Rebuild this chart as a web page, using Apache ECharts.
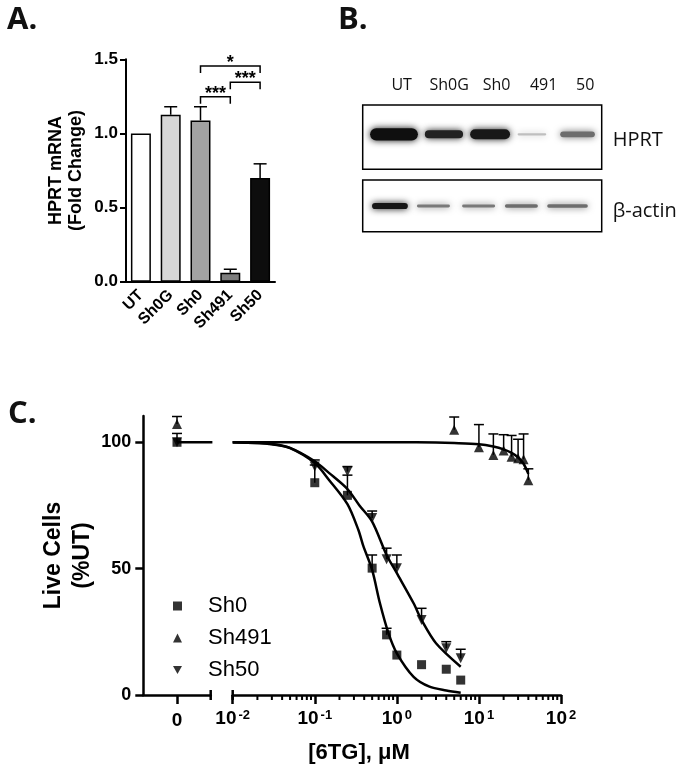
<!DOCTYPE html>
<html>
<head>
<meta charset="utf-8">
<script src="https://cdn.jsdelivr.net/npm/echarts@6/dist/echarts.min.js"></script>
<style>
  html, body { margin: 0; padding: 0; background: #fff; }
  #fig { width: 685px; height: 768px; }
</style>
</head>
<body>
<div id="fig"></div>
<script>
// ---- panel A: HPRT mRNA ----
var mrnaGroups = ['UT', 'Sh0G', 'Sh0', 'Sh491', 'Sh50'];
var mrnaFold = [1.0, 1.126, 1.088, 0.061, 0.70];
var mrnaSem = [0, 0.054, 0.092, 0.023, 0.095];
var mrnaColors = ['#ffffff', '#d6d6d6', '#a3a3a3', '#7d7d7d', '#0d0d0d'];
var sigFrom = [2, 3, 2];
var sigTo = [4, 4, 3];
var sigLevel = [1.455, 1.345, 1.248];
var sigText = ['*', '***', '***'];

// ---- panel B: western blot ----
var laneNames = ['UT', 'Sh0G', 'Sh0', '491', '50'];
var laneLabelPos = [1.63, 3.62, 5.6, 7.57, 9.31];
var hprtPos = [1.31, 3.40, 5.33, 7.08, 8.99];
var hprtWidth = [2.0, 1.6, 1.67, 1.2, 1.45];
var hprtThick = [0.19, 0.125, 0.155, 0.035, 0.09];
var hprtDensity = [1.0, 0.92, 0.96, 0.25, 0.6];
var actinPos = [1.14, 2.96, 4.85, 6.64, 8.57];
var actinWidth = [1.5, 1.38, 1.38, 1.38, 1.7];
var actinThick = [0.12, 0.055, 0.055, 0.065, 0.065];
var actinDensity = [0.97, 0.55, 0.55, 0.6, 0.6];

// ---- panel C: 6TG dose response ----
var sh0Conc = [0.1, 0.25, 0.5, 0.75, 1, 2, 4, 6];
var sh0Live = [84, 79, 50.2, 23.8, 15.8, 12, 10.2, 5.9];
var sh0ErrTop = [91, 87, 55.4, 26.4, 15.8, 12, 10.2, 5.9];
var sh491Conc = [5, 10, 15, 20, 25, 30, 35, 40];
var sh491Live = [105, 98, 95, 96.7, 94.3, 93.7, 93.3, 85];
var sh491ErrTop = [110, 107, 103.3, 103, 102.7, 101.2, 103.3, 89.5];
var sh50Conc = [0.1, 0.25, 0.5, 0.75, 1, 2, 4, 6];
var sh50Live = [90.4, 88.4, 70, 53.7, 50.2, 29.7, 18.5, 14.5];
var sh50ErrTop = [93, 90.4, 72.8, 58.1, 55.4, 34.3, 21.1, 18.1];
// untreated (0 uM) points: [value, error top]
var sh0Zero = [100, 103.5];
var sh491Zero = [107.2, 110.2];
var sh50Zero = [100, 100];
// fitted curves
var sh0FitX = [0.01, 0.02, 0.03, 0.05, 0.1, 0.15, 0.25, 0.34, 0.39, 0.5, 0.62, 0.79, 1, 1.6, 2.5, 4, 6];
var sh0FitY = [100, 99.7, 99.2, 97.7, 91.8, 85, 75.5, 65.3, 59, 49.5, 36.5, 24.5, 16.5, 7.2, 3.3, 1.8, 0.9];
var sh50FitX = [0.01, 0.02, 0.03, 0.05, 0.1, 0.15, 0.25, 0.35, 0.5, 0.75, 1, 1.6, 2, 3, 6];
var sh50FitY = [100, 99.7, 99.3, 97.8, 92.5, 87.8, 81.5, 75, 68.6, 55.4, 48.2, 36.3, 29.7, 20.5, 11.2];
var sh491FitX = [0.01, 1, 3, 5, 10, 15, 20, 25, 30, 35, 40];
var sh491FitY = [100, 100, 99.9, 99.7, 99.2, 98.3, 97.2, 95.8, 94, 91.5, 87.5];
var zeroFitX = [0, 1.05];
var zeroFitY = [100, 100];
var logMinorTicks = [0.02, 0.03, 0.04, 0.05, 0.06, 0.07, 0.08, 0.09,
                     0.2, 0.3, 0.4, 0.5, 0.6, 0.7, 0.8, 0.9,
                     2, 3, 4, 5, 6, 7, 8, 9,
                     20, 30, 40, 50, 60, 70, 80, 90];

var arial = "'Liberation Sans', Arial, sans-serif";
var calibri = "'Open Sans', 'Noto Sans', sans-serif";

function zip(xs, ys) {
    return xs.map(function (x, i) { return [x, ys[i]]; });
}
function zip3(xs, ys, zs) {
    return xs.map(function (x, i) { return [x, ys[i], zs[i]]; });
}

// error bar: one sided, upwards, with a cap
function errItem(capW) {
    return function (params, api) {
        var base = api.coord([api.value(0), api.value(1)]);
        var top = api.coord([api.value(0), api.value(2)]);
        if (api.value(2) <= api.value(1)) return null;
        var st = { stroke: '#000', lineWidth: 1.5 };
        return {
            type: 'group',
            children: [
                { type: 'line', shape: { x1: base[0], y1: base[1], x2: top[0], y2: top[1] }, style: st },
                { type: 'line', shape: { x1: top[0] - capW, y1: top[1], x2: top[0] + capW, y2: top[1] }, style: st }
            ]
        };
    };
}

function bandItem(params, api) {
    var c = api.coord([api.value(0), api.value(1)]);
    var s = api.size([api.value(2), api.value(3)]);
    var g = Math.round(235 * (1 - api.value(4)) + 15);
    var col = 'rgb(' + g + ',' + g + ',' + g + ')';
    return {
        type: 'rect',
        shape: { x: c[0] - s[0] / 2, y: c[1] - s[1] / 2, width: s[0], height: s[1], r: s[1] / 2 },
        style: { fill: col, shadowBlur: 7, shadowColor: col }
    };
}

var chartDom = document.getElementById('fig');
var myChart = echarts.init(chartDom, null, { renderer: 'canvas' });
var option;

var bandsHprt = hprtPos.map(function (x, i) { return [x, 0.544, hprtWidth[i], hprtThick[i], hprtDensity[i]]; });
var bandsActin = actinPos.map(function (x, i) { return [x, 0.497, actinWidth[i], actinThick[i], actinDensity[i]]; });

var downTri = 'path://M0,0L10,0L5,9Z';

option = {
    animation: false,
    backgroundColor: '#fff',
    title: [
        { text: 'A.', left: 2, top: 0, textStyle: { fontFamily: calibri, fontWeight: 'bold', fontSize: 31, color: '#111' } },
        { text: 'B.', left: 333, top: 0, textStyle: { fontFamily: calibri, fontWeight: 'bold', fontSize: 31, color: '#111' } },
        { text: 'C.', left: 3, top: 394, textStyle: { fontFamily: calibri, fontWeight: 'bold', fontSize: 31, color: '#111' } },
        { text: '[6TG], \u03bcM', left: 354, top: 737, textAlign: 'center',
          textStyle: { fontFamily: arial, fontWeight: 'bold', fontSize: 22, color: '#000' } }
    ],
    legend: {
        data: [
            { name: 'Sh0', icon: 'rect' },
            { name: 'Sh491', icon: 'triangle' },
            { name: 'Sh50', icon: downTri }
        ],
        orient: 'vertical',
        left: 168,
        top: 590,
        itemWidth: 9,
        itemHeight: 9,
        itemGap: 10,
        selectedMode: false,
        textStyle: { fontFamily: arial, fontSize: 22, color: '#000', lineHeight: 22, padding: [0, 0, 0, 21] }
    },
    grid: [
        { left: 126, top: 59.3, width: 149, height: 222.4 },
        { left: 362.7, top: 105, width: 239, height: 64.3, show: true, borderColor: '#000', borderWidth: 1.5 },
        { left: 362.7, top: 180, width: 239, height: 51.7, show: true, borderColor: '#000', borderWidth: 1.5 },
        { left: 143.3, top: 416, width: 67.4, height: 279 },
        { left: 232.7, top: 416, width: 328.3, height: 279 }
    ],
    xAxis: [
        {
            gridIndex: 0, type: 'category', data: mrnaGroups,
            axisLine: { onZero: false, lineStyle: { color: '#000', width: 2 } },
            axisTick: { alignWithLabel: true, length: 6, lineStyle: { width: 2, color: '#000' } },
            axisLabel: { interval: 0, hideOverlap: false, rotate: 45, margin: 11, fontFamily: arial, fontWeight: 'bold', fontSize: 16, color: '#000' }
        },
        {
            gridIndex: 1, type: 'value', min: 0, max: 10, position: 'top',
            axisLine: { show: false }, axisTick: { show: false }, splitLine: { show: false },
            axisLabel: {
                customValues: laneLabelPos, margin: 12,
                fontFamily: calibri, fontSize: 16, color: '#111',
                formatter: function (v) { return laneNames[laneLabelPos.indexOf(v)] || ''; }
            }
        },
        { gridIndex: 2, type: 'value', min: 0, max: 10, show: false, splitLine: { show: false } },
        {
            gridIndex: 3, type: 'value', min: -1, max: 1,
            axisLine: { onZero: false, lineStyle: { color: '#000', width: 2.5 } },
            axisTick: { customValues: [0], length: 9, lineStyle: { width: 2.5, color: '#000' } },
            splitLine: { show: false },
            axisLabel: { customValues: [0], margin: 16, fontFamily: arial, fontWeight: 'bold', fontSize: 19, color: '#000' }
        },
        {
            gridIndex: 4, type: 'log', logBase: 10, min: 0.01, max: 100, splitNumber: 4,
            axisLine: { onZero: false, lineStyle: { color: '#000', width: 2.5 } },
            axisTick: { length: 9, lineStyle: { width: 2.5, color: '#000' } },
            splitLine: { show: false },
            axisLabel: {
                margin: 14, color: '#000',
                formatter: function (v) {
                    var e = Math.round(Math.log(v) / Math.LN10);
                    return '{b|10}{s|' + e + '}';
                },
                rich: {
                    b: { fontFamily: arial, fontWeight: 'bold', fontSize: 19, color: '#000' },
                    s: { fontFamily: arial, fontWeight: 'bold', fontSize: 13, color: '#000', verticalAlign: 'top', padding: [0, 0, 0, 2] }
                }
            }
        }
    ],
    yAxis: [
        {
            gridIndex: 0, type: 'value', min: 0, max: 1.5, interval: 0.5,
            name: 'HPRT mRNA\n(Fold Change)', nameLocation: 'middle', nameGap: 40,
            nameTextStyle: { fontFamily: arial, fontWeight: 'bold', fontSize: 18, lineHeight: 20, color: '#000' },
            axisLine: { show: true, onZero: false, lineStyle: { color: '#000', width: 2 } },
            axisTick: { show: true, length: 6, lineStyle: { width: 2, color: '#000' } },
            splitLine: { show: false },
            axisLabel: {
                margin: 8, fontFamily: arial, fontWeight: 'bold', fontSize: 17, color: '#000',
                formatter: function (v) { return v.toFixed(1); }
            }
        },
        {
            gridIndex: 1, type: 'value', min: 0, max: 1, position: 'right',
            axisLine: { show: false }, axisTick: { show: false }, splitLine: { show: false },
            axisLabel: {
                customValues: [0.456], margin: 11, fontFamily: calibri, fontSize: 20, color: '#111',
                formatter: function () { return 'HPRT'; }
            }
        },
        {
            gridIndex: 2, type: 'value', min: 0, max: 1, position: 'right',
            axisLine: { show: false }, axisTick: { show: false }, splitLine: { show: false },
            axisLabel: {
                customValues: [0.39], margin: 11, fontFamily: calibri, fontSize: 20, color: '#111',
                formatter: function () { return '\u03b2-actin'; }
            }
        },
        {
            gridIndex: 3, type: 'value', min: 0, max: 110.4,
            name: 'Live Cells\n(%UT)', nameLocation: 'middle', nameGap: 43,
            nameTextStyle: { fontFamily: arial, fontWeight: 'bold', fontSize: 23, lineHeight: 29, color: '#000' },
            axisLine: { show: true, onZero: false, lineStyle: { color: '#000', width: 2.5 } },
            axisTick: { show: true, customValues: [0, 50, 100], length: 8, lineStyle: { width: 2.5, color: '#000' } },
            splitLine: { show: false },
            axisLabel: { customValues: [0, 50, 100], margin: 12, fontFamily: arial, fontWeight: 'bold', fontSize: 18, color: '#000' }
        },
        { gridIndex: 4, type: 'value', min: 0, max: 110.4, show: false, splitLine: { show: false } }
    ],
    series: [
        // panel A
        {
            name: 'mRNA', type: 'bar', xAxisIndex: 0, yAxisIndex: 0, barWidth: '67%',
            data: mrnaFold.map(function (v, i) {
                return { value: v, itemStyle: { color: mrnaColors[i], borderColor: '#000', borderWidth: 1.5 } };
            })
        },
        {
            name: 'mRNA err', type: 'custom', xAxisIndex: 0, yAxisIndex: 0, z: 3,
            renderItem: errItem(6.5),
            data: mrnaFold.map(function (v, i) { return [i, v, v + mrnaSem[i]]; })
        },
        {
            name: 'sig', type: 'custom', xAxisIndex: 0, yAxisIndex: 0, clip: false,
            renderItem: function (params, api) {
                var a = api.coord([api.value(0), api.value(2)]);
                var b = api.coord([api.value(1), api.value(2)]);
                return {
                    type: 'group',
                    children: [
                        { type: 'polyline', shape: { points: [[a[0], a[1] + 7], a, b, [b[0], b[1] + 7]] },
                          style: { stroke: '#000', lineWidth: 1.5, fill: null } },
                        { type: 'text', x: (a[0] + b[0]) / 2, y: a[1] + 6,
                          style: { text: sigText[params.dataIndex], align: 'center', verticalAlign: 'bottom',
                                   font: 'bold 18px ' + arial, fill: '#000' } }
                    ]
                };
            },
            data: sigFrom.map(function (f, i) { return [f, sigTo[i], sigLevel[i]]; })
        },
        // panel B
        { name: 'HPRT bands', type: 'custom', xAxisIndex: 1, yAxisIndex: 1, renderItem: bandItem, data: bandsHprt },
        { name: 'actin bands', type: 'custom', xAxisIndex: 2, yAxisIndex: 2, renderItem: bandItem, data: bandsActin },
        // panel C, log part
        {
            name: 'Sh0 fit', type: 'line', xAxisIndex: 4, yAxisIndex: 4, data: zip(sh0FitX, sh0FitY),
            showSymbol: false, smooth: 0.3, lineStyle: { color: '#000', width: 2.5 }, z: 2
        },
        {
            name: 'Sh50 fit', type: 'line', xAxisIndex: 4, yAxisIndex: 4, data: zip(sh50FitX, sh50FitY),
            showSymbol: false, smooth: 0.3, lineStyle: { color: '#000', width: 2.5 }, z: 2
        },
        {
            name: 'Sh491 fit', type: 'line', xAxisIndex: 4, yAxisIndex: 4, data: zip(sh491FitX, sh491FitY),
            showSymbol: false, smooth: 0.3, lineStyle: { color: '#000', width: 2.5 }, z: 2
        },
        { name: 'Sh0 err', type: 'custom', xAxisIndex: 4, yAxisIndex: 4, clip: false, renderItem: errItem(5), data: zip3(sh0Conc, sh0Live, sh0ErrTop), z: 3 },
        { name: 'Sh491 err', type: 'custom', xAxisIndex: 4, yAxisIndex: 4, clip: false, renderItem: errItem(5), data: zip3(sh491Conc, sh491Live, sh491ErrTop), z: 3 },
        { name: 'Sh50 err', type: 'custom', xAxisIndex: 4, yAxisIndex: 4, clip: false, renderItem: errItem(5), data: zip3(sh50Conc, sh50Live, sh50ErrTop), z: 3 },
        {
            name: 'Sh0', type: 'scatter', xAxisIndex: 4, yAxisIndex: 4, symbol: 'rect', symbolSize: 9,
            itemStyle: { color: '#000' }, data: zip(sh0Conc, sh0Live), z: 4
        },
        {
            name: 'Sh491', type: 'scatter', xAxisIndex: 4, yAxisIndex: 4, symbol: 'triangle', symbolSize: 10,
            itemStyle: { color: '#000' }, data: zip(sh491Conc, sh491Live), z: 4
        },
        {
            name: 'Sh50', type: 'scatter', xAxisIndex: 4, yAxisIndex: 4, symbol: downTri, symbolSize: 10,
            itemStyle: { color: '#000' }, data: zip(sh50Conc, sh50Live), z: 4
        },
        {
            name: 'minor ticks', type: 'custom', xAxisIndex: 4, yAxisIndex: 4, clip: false,
            renderItem: function (params, api) {
                var p = api.coord([api.value(0), 0]);
                return { type: 'line', shape: { x1: p[0], y1: p[1], x2: p[0], y2: p[1] + 5 }, style: { stroke: '#000', lineWidth: 2 } };
            },
            data: logMinorTicks.map(function (v) { return [v, 0]; })
        },
        {
            name: 'break right', type: 'custom', xAxisIndex: 4, yAxisIndex: 4, clip: false,
            renderItem: function (params, api) {
                var p = api.coord([api.value(0), 0]);
                return { type: 'line', shape: { x1: p[0], y1: p[1] - 5, x2: p[0], y2: p[1] + 5 }, style: { stroke: '#000', lineWidth: 2.5 } };
            },
            data: [[0.01, 0]]
        },
        // panel C, zero-dose part
        {
            name: 'zero fit', type: 'line', xAxisIndex: 3, yAxisIndex: 3, data: zip(zeroFitX, zeroFitY),
            showSymbol: false, clip: false, lineStyle: { color: '#000', width: 2.5 }, z: 2
        },
        {
            name: 'zero err', type: 'custom', xAxisIndex: 3, yAxisIndex: 3, clip: false, renderItem: errItem(5), z: 3,
            data: [[0, sh0Zero[0], sh0Zero[1]], [0, sh491Zero[0], sh491Zero[1]], [0, sh50Zero[0], sh50Zero[1]]]
        },
        {
            name: 'Sh0', type: 'scatter', xAxisIndex: 3, yAxisIndex: 3, symbol: 'rect', symbolSize: 9,
            itemStyle: { color: '#000' }, data: [[0, sh0Zero[0]]], z: 4
        },
        {
            name: 'Sh491', type: 'scatter', xAxisIndex: 3, yAxisIndex: 3, symbol: 'triangle', symbolSize: 10,
            itemStyle: { color: '#000' }, data: [[0, sh491Zero[0]]], z: 4
        },
        {
            name: 'Sh50', type: 'scatter', xAxisIndex: 3, yAxisIndex: 3, symbol: downTri, symbolSize: 10,
            itemStyle: { color: '#000' }, data: [[0, sh50Zero[0]]], z: 3
        },
        {
            name: 'break left', type: 'custom', xAxisIndex: 3, yAxisIndex: 3, clip: false,
            renderItem: function (params, api) {
                var p = api.coord([api.value(0), 0]);
                return { type: 'line', shape: { x1: p[0], y1: p[1] - 5, x2: p[0], y2: p[1] + 5 }, style: { stroke: '#000', lineWidth: 2.5 } };
            },
            data: [[1, 0]]
        }
    ]
};

option && myChart.setOption(option);
</script>
</body>
</html>
